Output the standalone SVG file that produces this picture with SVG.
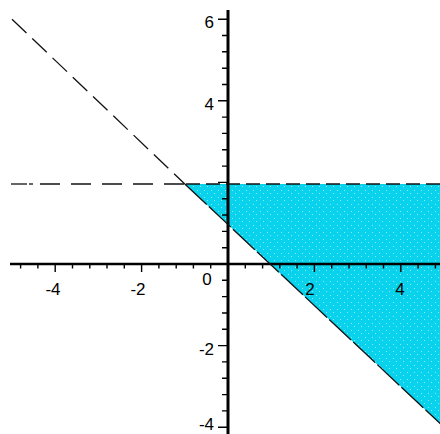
<svg xmlns="http://www.w3.org/2000/svg" width="440" height="434" viewBox="0 0 440 434">
<defs>
<pattern id="dots" width="7" height="7" patternUnits="userSpaceOnUse">
<rect width="7" height="7" fill="#08d2ec"/>
<rect x="1" y="1" width="1" height="1" fill="#8aeaf8"/>
<rect x="4" y="4" width="1" height="1" fill="#8aeaf8"/>
</pattern>
<style>
.ax{stroke:#000;fill:none}
.tk{stroke:#000;stroke-width:1.4;fill:none}
.lb{font-family:"Liberation Sans",Arial,sans-serif;font-size:17px;fill:#000}
.bd{stroke:#111;stroke-width:1.3;fill:none}
</style>
</defs>
<rect width="440" height="434" fill="#fff"/>
<g id="region">
<polygon points="184.8,184 440,184 440,423.4" fill="url(#dots)"/>
</g>
<g id="axes">
<line class="ax" x1="10" y1="264" x2="440" y2="264" stroke-width="2.5"/>
<line class="ax" x1="228" y1="10" x2="228" y2="434" stroke-width="3"/>
<path class="tk" d="M20.6,265V268.5M37.9,265V268.5M55.2,265V272M72.5,265V268.5M89.8,265V268.5M107,265V268.5M124.3,265V268.5M141.6,265V272M158.9,265V268.5M176.2,265V268.5M193.4,265V268.5M210.7,265V268.5M245.3,265V268.5M262.6,265V268.5M279.8,265V268.5M297.1,265V268.5M314.4,265V272M331.7,265V268.5M349,265V268.5M366.2,265V268.5M383.5,265V268.5M400.8,265V272M418.1,265V268.5M435.4,265V268.5"/>
<path class="tk" d="M218,19.2H227M222,35.5H227M222,51.8H227M222,68.2H227M222,84.5H227M218,100.8H227M222,117.1H227M222,133.4H227M222,149.8H227M222,166.1H227M218,182.4H227M222,198.7H227M222,215H227M222,231.4H227M222,247.7H227M222,280.3H227M222,296.6H227M222,313H227M222,329.3H227M218,345.6H227M222,361.9H227M222,378.2H227M222,394.6H227M222,410.9H227M218,427.2H227"/>
</g>
<g id="labels">
<text class="lb" x="214" y="28" text-anchor="end">6</text>
<text class="lb" x="214" y="110" text-anchor="end">4</text>
<text class="lb" x="214" y="355" text-anchor="end">-2</text>
<text class="lb" x="214" y="430" text-anchor="end">-4</text>
<text class="lb" x="53" y="295" text-anchor="middle">-4</text>
<text class="lb" x="138" y="295" text-anchor="middle">-2</text>
<text class="lb" x="207" y="285" text-anchor="middle">0</text>
<text class="lb" x="310" y="295" text-anchor="middle">2</text>
<text class="lb" x="400" y="295" text-anchor="middle">4</text>
</g>
<g id="connectors">
<line class="bd" x1="11" y1="184" x2="27" y2="184" stroke-width="2"/>
<line class="bd" x1="29" y1="184" x2="33" y2="184" stroke-width="2"/>
<line class="bd" x1="40" y1="184" x2="186" y2="184" stroke-width="2" stroke-dasharray="20 11"/>
<line class="bd" x1="186" y1="184" x2="440" y2="184" stroke-width="2" stroke-dasharray="14 6"/>
<line class="bd" x1="12" y1="19.2" x2="184.8" y2="184" stroke-dasharray="20 8"/>
<line class="bd" x1="184.8" y1="184" x2="444" y2="427.2" stroke-dasharray="30 3"/>
</g>
</svg>
